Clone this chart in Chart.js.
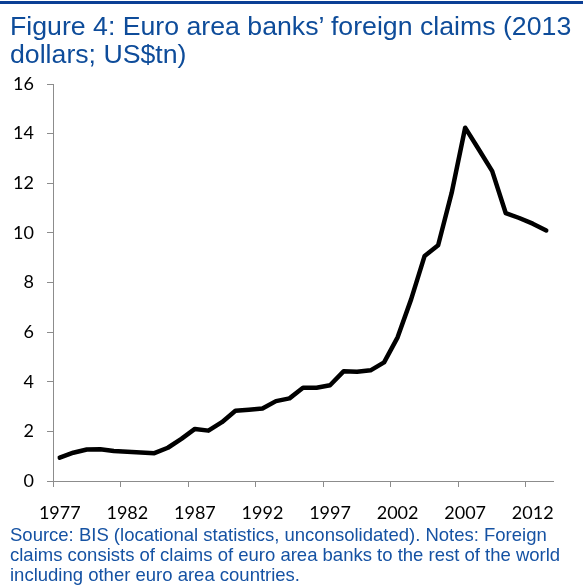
<!DOCTYPE html>
<html>
<head>
<meta charset="utf-8">
<title>Euro area banks' foreign claims</title>
<script src="https://cdn.jsdelivr.net/npm/chart.js@4/dist/chart.umd.min.js"></script>
<style>
  html, body { margin: 0; padding: 0; background: #fff; }
  #wrap { position: relative; width: 583px; height: 587px; overflow: hidden; }
  #rule { position: absolute; left: 0; top: 1px; width: 583px; height: 3px; background: #0b3f95; }
  #title {
    position: absolute; left: 10px; top: 12px;
    font-family: "Liberation Sans", Arial, sans-serif; font-size: 26.7px; line-height: 28px;
    color: #0e4c9a; white-space: nowrap;
  }
  #notes {
    position: absolute; left: 10px; top: 525px;
    font-family: "Liberation Sans", Arial, sans-serif; font-size: 18.5px; line-height: 20px;
    color: #1552a3; white-space: nowrap;
  }
  canvas { position: absolute; left: 0; top: 0; }
</style>
</head>
<body>
<div id="wrap">
  <canvas id="claimsChart" width="583" height="587"></canvas>
  <div id="rule"></div>
  <div id="title">Figure 4: Euro area banks’ foreign claims (2013<br>dollars; US$tn)</div>
  <div id="notes">Source: BIS (locational statistics, unconsolidated). Notes: Foreign<br>claims consists of claims of euro area banks to the rest of the world<br>including other euro area countries.</div>
</div>
<script>
// Foreign claims of euro area banks, 2013 US$ trillions
const years = [];
for (let y = 1977; y <= 2013; y++) years.push(String(y));

const claims = [
  0.94, 1.14, 1.27, 1.28, 1.21, 1.18, 1.15, 1.12, 1.34, 1.70,
  2.10, 2.03, 2.37, 2.83, 2.87, 2.92, 3.22, 3.33, 3.76, 3.76,
  3.86, 4.42, 4.40, 4.46, 4.78, 5.79, 7.32, 9.07, 9.50, 11.61,
  14.24, 13.37, 12.49, 10.80, 10.60, 10.37, 10.10
];

const yTicks = [0, 2, 4, 6, 8, 10, 12, 14, 16];
const labelEvery = 5;

const axisGray = '#8c8c8c';
const tickFont = { family: 'Lato', size: 18 };

const ctx = document.getElementById('claimsChart');
new Chart(ctx, {
  type: 'line',
  data: {
    labels: years,
    datasets: [{
      data: claims,
      borderColor: '#000',
      borderWidth: 4.5,
      borderJoinStyle: 'round',
      borderCapStyle: 'round',
      pointRadius: 0,
      tension: 0,
      fill: false
    }]
  },
  options: {
    responsive: false,
    animation: false,
    layout: {
      padding: { left: 0, right: 30, top: 84, bottom: 56 }
    },
    plugins: {
      legend: { display: false },
      tooltip: { enabled: false }
    },
    scales: {
      x: {
        type: 'category',
        offset: true,
        afterFit: function(scale) { scale.height = 50; },
        grid: {
          offset: true,
          drawOnChartArea: false,
          drawTicks: true,
          tickLength: 6,
          color: function(c) {
            return c.index % labelEvery === 0 && c.index < years.length ? axisGray : 'rgba(0,0,0,0)';
          }
        },
        border: { display: true, color: axisGray, width: 1 },
        ticks: {
          autoSkip: false,
          maxRotation: 0,
          padding: 15,
          color: '#000',
          font: tickFont,
          callback: function(value, index) {
            return index % labelEvery === 0 ? years[index] : '';
          }
        }
      },
      y: {
        min: 0,
        max: 16,
        afterFit: function(scale) { scale.width = 53; },
        afterBuildTicks: function(scale) {
          scale.ticks = yTicks.map(v => ({ value: v }));
        },
        grid: {
          drawOnChartArea: false,
          drawTicks: true,
          tickLength: 6,
          color: axisGray
        },
        border: { display: true, color: axisGray, width: 1 },
        ticks: {
          padding: 13,
          color: '#000',
          font: tickFont
        }
      }
    }
  }
});
</script>
</body>
</html>
